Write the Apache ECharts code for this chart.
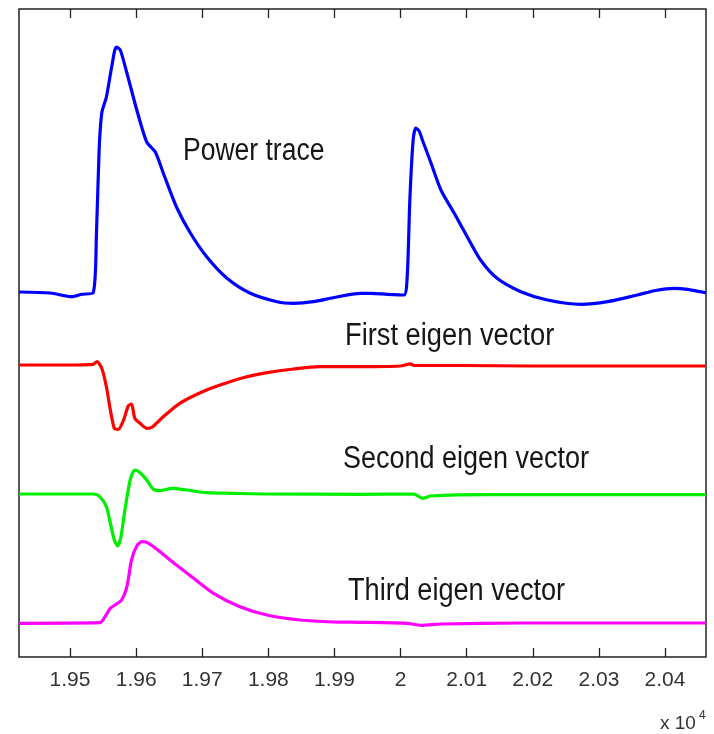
<!DOCTYPE html>
<html>
<head>
<meta charset="utf-8">
<script src="https://cdn.jsdelivr.net/npm/echarts@6/dist/echarts.min.js"></script>
<style>
  html, body { margin: 0; padding: 0; background: #fff; }
  #chart { width: 714px; height: 734px; }
</style>
</head>
<body>
<div id="chart"></div>
<script>
// Sample index (raw units; axis labels are shown x 10^4)
const tickValues = [19500, 19600, 19700, 19800, 19900, 20000, 20100, 20200, 20300, 20400];

// Each trace: [sample, amplitude relative to its own baseline]
const powerTrace = [
  [19423, 0], [19470, -0.1], [19503, -0.47], [19518, -0.23], [19535, -0.07],
  [19540, 5.9], [19544, 14.2], [19548, 17.9], [19555, 19.5], [19563, 22.5],
  [19570, 24.5], [19576, 24.2], [19586, 21.9], [19601, 18.2], [19616, 15.0],
  [19629, 14.0], [19641, 11.9], [19661, 8.5], [19682, 5.9], [19707, 3.5],
  [19737, 1.4], [19772, -0.1], [19813, -0.97], [19838, -1.13], [19868, -0.97],
  [19898, -0.57], [19939, -0.13], [19955, -0.13], [19980, -0.23], [20005, -0.3],
  [20010, 1.5], [20014, 9.2], [20019, 15.2], [20023, 16.4], [20028, 16.1],
  [20033, 15.2], [20046, 12.9], [20061, 10.2], [20081, 7.9], [20101, 5.5],
  [20121, 3.2], [20146, 1.37], [20182, 0.03], [20222, -0.8], [20273, -1.23],
  [20313, -0.97], [20358, -0.3], [20384, 0.13], [20414, 0.37], [20434, 0.27],
  [20462, -0.07]
];

const firstEigen = [
  [19423, 0], [19495, 0], [19535, 0.07], [19541, 0.33], [19548, -0.33],
  [19555, -2.17], [19561, -4.5], [19567, -6.33], [19573, -6.43], [19581, -5.5],
  [19588, -4.1], [19593, -3.9], [19598, -5.33], [19606, -5.83], [19616, -6.33],
  [19624, -6.23], [19641, -5.17], [19666, -3.83], [19697, -2.77], [19727, -2.0],
  [19762, -1.27], [19798, -0.77], [19838, -0.4], [19878, -0.17], [19939, -0.17],
  [19999, -0.1], [20015, 0.12], [20020, -0.05], [20090, -0.05], [20196, -0.1],
  [20302, -0.1], [20462, -0.1]
];

const secondEigen = [
  [19423, 0], [19535, 0], [19545, -0.27], [19555, -1.27], [19561, -2.93],
  [19567, -4.6], [19572, -5.2], [19577, -4.27], [19583, -1.6], [19591, 1.4],
  [19598, 2.4], [19606, 2.13], [19616, 1.4], [19626, 0.47], [19636, 0.33],
  [19654, 0.57], [19677, 0.4], [19707, 0.13], [19747, 0.07], [19798, 0],
  [19939, -0.03], [20020, 0], [20033, -0.43], [20046, -0.2], [20131, -0.07],
  [20462, -0.07]
];

const thirdEigen = [
  [19423, -0.03], [19545, 0.03], [19553, 0.63], [19561, 1.47], [19568, 1.8],
  [19578, 2.3], [19586, 3.63], [19593, 6.3], [19601, 7.7], [19609, 8.13],
  [19619, 7.97], [19636, 7.13], [19661, 5.8], [19687, 4.47], [19717, 2.97],
  [19757, 1.63], [19798, 0.8], [19848, 0.3], [19898, 0.1], [19939, 0.07],
  [20010, -0.03], [20031, -0.23], [20061, -0.1], [20182, 0], [20462, 0]
];

const traceNames = ['Power trace', 'First eigen vector', 'Second eigen vector', 'Third eigen vector'];

// Vertical offsets that stack the traces in one panel
const baselines = [36.5, 29.2, 16.3, 3.4];
const colors = ['#0000ff', '#ff0000', '#00ee00', '#ff00ff'];
const traces = [powerTrace, firstEigen, secondEigen, thirdEigen];

const X_MIN = 19422.8, X_MAX = 20462;
const FONT = '"Liberation Sans", Arial, sans-serif';

const chart = echarts.init(document.getElementById('chart'), null, { renderer: 'canvas' });

const axisCommon = {
  type: 'value',
  min: X_MIN,
  max: X_MAX,
  axisLine: { show: false },
  splitLine: { show: false },
  axisTick: {
    show: true, inside: true, length: 9, customValues: tickValues,
    lineStyle: { color: '#222', width: 1.3 }
  }
};

// Condensed caption text next to each trace
function caption(text, x, y, sx) {
  return {
    type: 'text', x: x, y: y, scaleX: sx,
    style: { text: text, x: 0, y: 0, verticalAlign: 'top', font: '31px ' + FONT, fill: '#161616' }
  };
}

chart.setOption({
  animation: false,
  backgroundColor: '#fff',
  grid: {
    left: 19, top: 9, width: 687, height: 648,
    show: true, borderColor: '#222', borderWidth: 1.5, backgroundColor: 'transparent'
  },
  xAxis: [
    Object.assign({}, axisCommon, {
      position: 'bottom',
      axisLabel: {
        show: true, customValues: tickValues, margin: 13,
        color: '#333', fontSize: 21, fontFamily: FONT,
        formatter: v => String(+(v / 10000).toFixed(2))
      }
    }),
    Object.assign({}, axisCommon, {
      position: 'top',
      axisLabel: { show: false }
    })
  ],
  yAxis: {
    type: 'value', min: 0, max: 64.8,
    axisLine: { show: false }, axisTick: { show: false },
    axisLabel: { show: false }, splitLine: { show: false }
  },
  series: traces.map((t, i) => ({
    name: traceNames[i],
    type: 'line',
    xAxisIndex: 0,
    showSymbol: false,
    smooth: 0.25,
    lineStyle: { color: colors[i], width: 3.2 },
    data: t.map(p => [p[0], p[1] + baselines[i]])
  })),
  graphic: [
    caption(traceNames[0], 183, 136, 0.855),
    caption(traceNames[1], 345, 321, 0.88),
    caption(traceNames[2], 343, 444, 0.87),
    caption(traceNames[3], 348, 576, 0.875),
    { type: 'text', x: 660, y: 714, style: { text: 'x 10', x: 0, y: 0, verticalAlign: 'top', font: '19px ' + FONT, fill: '#333' } },
    { type: 'text', x: 699, y: 710, style: { text: '4', x: 0, y: 0, verticalAlign: 'top', font: '12px ' + FONT, fill: '#333' } }
  ]
});
</script>
</body>
</html>
